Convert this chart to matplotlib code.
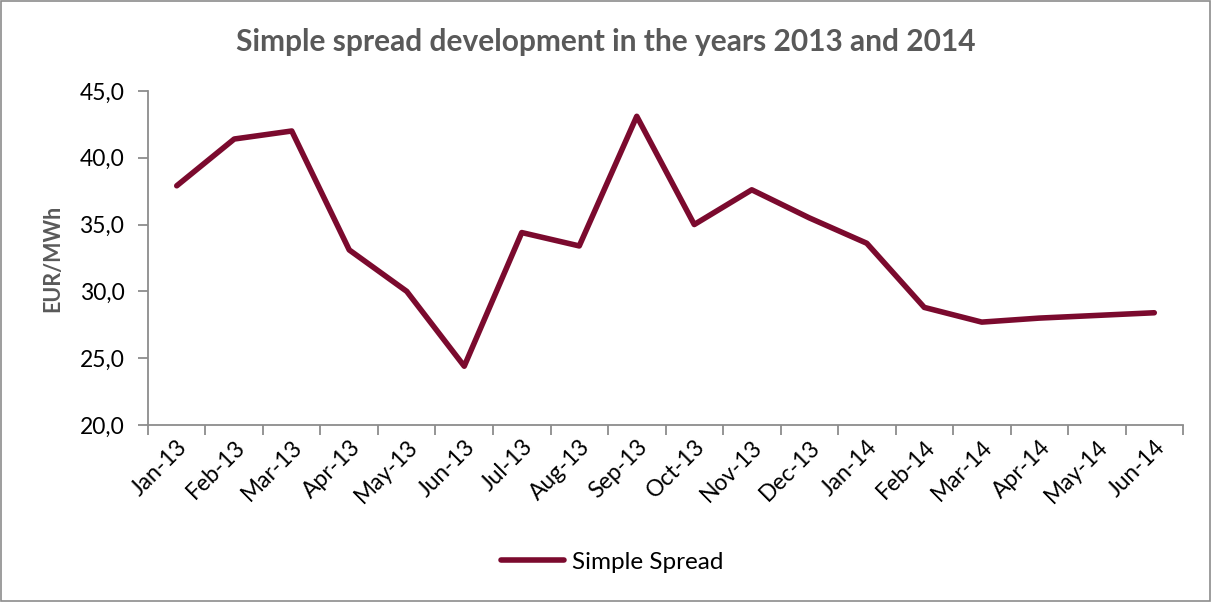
import numpy as np
import matplotlib.pyplot as plt
from matplotlib.patches import Rectangle

plt.rcParams['font.family'] = ['Lato', 'DejaVu Sans']

# data
months = ["Jan-13", "Feb-13", "Mar-13", "Apr-13", "May-13", "Jun-13", "Jul-13", "Aug-13", "Sep-13",
          "Oct-13", "Nov-13", "Dec-13", "Jan-14", "Feb-14", "Mar-14", "Apr-14", "May-14", "Jun-14"]
spread = [37.9, 41.4, 42.0, 33.1, 30.0, 24.4, 34.4, 33.4, 43.1,
          35.0, 37.6, 35.5, 33.6, 28.8, 27.7, 28.0, 28.2, 28.4]

line_col = "#7B0A2E"
grey = "#8C8C8C"

fig = plt.figure(figsize=(12.12, 6.02), dpi=100)
ax = fig.add_axes([0.1221, 0.294, 0.854, 0.555])

x = np.arange(len(months))
ax.plot(x, spread, color=line_col, lw=4, solid_capstyle="round", solid_joinstyle="round",
        label="Simple Spread")

ax.set_xlim(-0.5, len(months) - 0.5)
ax.set_ylim(20, 45)
ax.set_yticks(np.arange(20, 45.1, 5))
ax.set_yticklabels([f"{v:.1f}".replace(".", ",") for v in np.arange(20, 45.1, 5)], fontsize=16.5)

# boundary ticks on major, labels on minor
ax.set_xticks(np.arange(-0.5, len(months), 1))
ax.set_xticklabels([])
ax.set_xticks(x, minor=True)
ax.set_xticklabels(months, minor=True, rotation=45, ha="right", va="top",
                   rotation_mode="anchor", fontsize=16.5)
ax.tick_params(axis="x", which="minor", length=0, pad=8)
ax.tick_params(axis="x", which="major", length=7, color=grey, width=1.3)
ax.tick_params(axis="y", length=7, color=grey, width=1.3, pad=10)

for s in ["top", "right"]:
    ax.spines[s].set_visible(False)
for s in ["left", "bottom"]:
    ax.spines[s].set_color(grey)
    ax.spines[s].set_linewidth(1.3)

ax.set_ylabel("EUR/MWh", fontsize=15.5, fontweight="bold", color="#595959", labelpad=12)
fig.text(0.5, 0.93, "Simple spread development in the years 2013 and 2014", ha="center",
         va="center", fontsize=21.5, fontweight="bold", color="#595959")

fig.legend(loc="center", bbox_to_anchor=(0.505, 0.066), frameon=False, fontsize=17.5,
           handlelength=2.6, handletextpad=0.3)

fig.patches.append(Rectangle((0.001, 0.001), 0.997, 0.997, transform=fig.transFigure,
                             fill=False, edgecolor=grey, lw=1.2))

fig.savefig("out.png", dpi=100)
